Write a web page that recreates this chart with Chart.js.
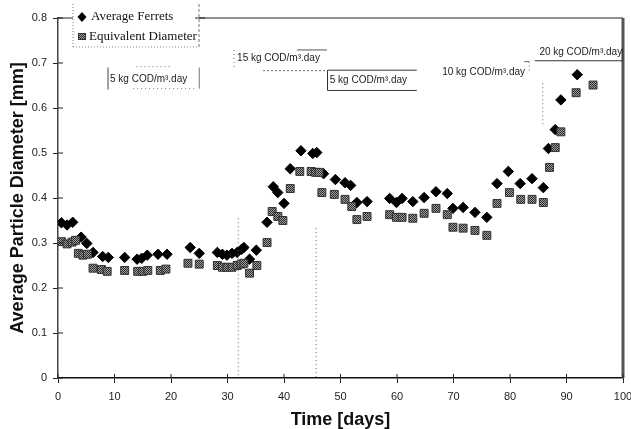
<!DOCTYPE html>
<html>
<head>
<meta charset="utf-8">
<script src="https://cdn.jsdelivr.net/npm/chart.js@4"></script>
<style>
  html, body { margin: 0; padding: 0; background: #fff; }
</style>
</head>
<body>
<canvas id="graficoParticulas" width="631" height="429"></canvas>
<script>
// dados
const diasFerrets = [0.6, 1.6, 2.6, 4.1, 5.1, 6.2, 7.9, 8.9, 11.8, 14.0, 14.8, 15.8, 17.7, 19.3, 23.4, 25.0,
  28.2, 29.1, 29.9, 30.8, 31.7, 32.5, 32.9, 33.9, 35.1, 37.0, 38.1, 38.9, 40.0, 41.1, 43.0, 45.1, 45.8,
  47.0, 49.1, 50.8, 51.8, 52.9, 54.7, 58.7, 59.9, 60.9, 62.8, 64.8, 66.9, 68.9, 69.9, 71.7, 73.8, 75.9,
  77.7, 79.7, 81.8, 83.9, 85.9, 86.8, 88.0, 89.0, 91.9];
const valoresFerrets = [0.345, 0.340, 0.346, 0.313, 0.299, 0.279, 0.270, 0.268, 0.268, 0.264, 0.266, 0.273,
  0.275, 0.275, 0.290, 0.277, 0.279, 0.275, 0.273, 0.277, 0.279, 0.286, 0.290, 0.264, 0.284, 0.346, 0.425,
  0.412, 0.388, 0.465, 0.505, 0.499, 0.501, 0.454, 0.441, 0.434, 0.428, 0.390, 0.392, 0.399, 0.390, 0.399,
  0.392, 0.401, 0.414, 0.410, 0.377, 0.379, 0.368, 0.357, 0.432, 0.459, 0.432, 0.443, 0.423, 0.510, 0.552,
  0.618, 0.674];

const diasEquivalente = [0.6, 1.6, 2.5, 3.1, 3.6, 4.4, 5.2, 6.2, 7.7, 8.7, 11.8, 14.1, 15.0, 15.9, 18.1, 19.1,
  23.0, 25.0, 28.2, 29.1, 29.9, 30.8, 31.7, 32.4, 32.9, 33.9, 35.2, 37.0, 37.9, 38.9, 39.8, 41.1, 42.8,
  44.8, 45.6, 46.2, 46.7, 48.9, 50.8, 52.0, 52.9, 54.7, 58.7, 59.9, 60.9, 62.8, 64.8, 66.9, 68.9, 69.9,
  71.7, 73.8, 75.9, 77.7, 79.9, 81.9, 83.9, 85.9, 87.0, 88.0, 89.0, 91.7, 94.7];
const valoresEquivalente = [0.303, 0.298, 0.302, 0.306, 0.277, 0.273, 0.275, 0.244, 0.241, 0.237, 0.239,
  0.237, 0.237, 0.239, 0.239, 0.242, 0.255, 0.253, 0.250, 0.246, 0.246, 0.246, 0.250, 0.253, 0.255, 0.233,
  0.250, 0.301, 0.370, 0.359, 0.350, 0.421, 0.459, 0.459, 0.457, 0.457, 0.412, 0.408, 0.397, 0.381, 0.352,
  0.359, 0.363, 0.357, 0.357, 0.355, 0.366, 0.377, 0.363, 0.335, 0.333, 0.328, 0.317, 0.388, 0.412, 0.397,
  0.397, 0.390, 0.468, 0.512, 0.547, 0.634, 0.651];

const ticksX = [0, 10, 20, 30, 40, 50, 60, 70, 80, 90, 100];
const ticksY = [0, 0.1, 0.2, 0.3, 0.4, 0.5, 0.6, 0.7, 0.8];

const nomesSeries = ["Average Ferrets", "Equivalent Diameter"];
const cargas = ["5 kg COD/m\u00b3.day", "15 kg COD/m\u00b3.day", "5 kg COD/m\u00b3.day", "10 kg COD/m\u00b3.day", "20 kg COD/m\u00b3.day"];
const diasMudanca = [31.9, 45.7, 85.8];

const fonteSans = "'Liberation Sans', Arial, sans-serif";
const fonteSerif = "'Liberation Serif', 'Times New Roman', serif";

function juntaPontos(dias, valores) {
  return dias.map((d, i) => ({ x: d, y: valores[i] }));
}

function criaPadrao() {
  const c = document.createElement("canvas");
  c.width = 2;
  c.height = 2;
  const g = c.getContext("2d");
  g.fillStyle = "#a0a0a0";
  g.fillRect(0, 0, 2, 2);
  g.fillStyle = "#2a2a2a";
  g.fillRect(0, 0, 1, 1);
  g.fillRect(1, 1, 1, 1);
  return g.createPattern(c, "repeat");
}
const padraoQuadrado = criaPadrao();

function linha(ctx, x1, y1, x2, y2, tracejado, cor, largura) {
  ctx.save();
  ctx.strokeStyle = cor || "#333";
  ctx.lineWidth = largura || 1;
  ctx.setLineDash(tracejado || []);
  ctx.beginPath();
  ctx.moveTo(x1, y1);
  ctx.lineTo(x2, y2);
  ctx.stroke();
  ctx.restore();
}

// desenha molduras, linhas pontilhadas, caixas de texto e legenda
const decoracao = {
  id: "decoracao",
  afterDraw(chart) {
    const ctx = chart.ctx;
    const sx = chart.scales.x;
    const sy = chart.scales.y;
    const a = chart.chartArea;
    const px = (d) => sx.getPixelForValue(d);
    const py = (v) => sy.getPixelForValue(v);
    const ponto = [1, 3];

    // moldura superior e direita
    linha(ctx, a.left, a.top, a.right, a.top, [], "#222", 1);
    linha(ctx, a.right, a.top, a.right, a.bottom, [], "#555", 3);

    // marcas internas dos eixos
    ticksY.forEach((v) => linha(ctx, a.left, py(v), a.left + 5, py(v), [], "#222", 1));
    ticksX.forEach((d) => linha(ctx, px(d), a.bottom, px(d), a.bottom - 4, [], "#222", 1));

    // mudancas de carga
    linha(ctx, px(diasMudanca[0]), py(0.355), px(diasMudanca[0]), a.bottom, ponto, "#666", 1);
    linha(ctx, px(diasMudanca[1]), py(0.333), px(diasMudanca[1]), a.bottom, ponto, "#666", 1);
    linha(ctx, px(diasMudanca[2]), py(0.655), px(diasMudanca[2]), py(0.56), ponto, "#666", 1);

    ctx.save();
    ctx.font = "10px " + fonteSans;
    ctx.fillStyle = "#222";
    ctx.textBaseline = "middle";

    // caixa 1
    linha(ctx, px(8.85), py(0.690), px(8.85), py(0.641), [], "#444", 1);
    linha(ctx, px(25.0), py(0.690), px(25.0), py(0.643), [], "#777", 1);
    linha(ctx, px(13.9), py(0.692), px(19.8), py(0.692), ponto, "#777", 1);
    linha(ctx, px(13.3), py(0.643), px(24.5), py(0.643), ponto, "#777", 1);
    ctx.fillText(cargas[0], px(9.2), py(0.665));

    // caixa 2
    linha(ctx, px(31.15), py(0.729), px(31.15), py(0.685), ponto, "#666", 1);
    linha(ctx, px(42.3), py(0.729), px(47.6), py(0.729), [], "#555", 1);
    linha(ctx, px(36.3), py(0.683), px(47.6), py(0.683), [2, 2], "#666", 1);
    ctx.fillText(cargas[1], px(31.7), py(0.710));

    // caixa 3
    linha(ctx, px(47.7), py(0.684), px(47.7), py(0.639), [], "#333", 1);
    linha(ctx, px(47.7), py(0.684), px(63.5), py(0.684), [], "#333", 1);
    linha(ctx, px(47.7), py(0.639), px(63.5), py(0.639), [], "#333", 1);
    ctx.fillText(cargas[2], px(48.1), py(0.661));

    // caixa 4
    linha(ctx, px(83.4), py(0.703), px(83.4), py(0.679), ponto, "#666", 1);
    linha(ctx, px(82.5), py(0.703), px(83.4), py(0.703), [], "#666", 1);
    ctx.fillText(cargas[3], px(68.0), py(0.679));

    // caixa 5
    linha(ctx, px(84.4), py(0.705), px(100), py(0.705), [], "#333", 1);
    linha(ctx, px(99.9), py(0.733), px(99.9), py(0.705), [], "#333", 1);
    ctx.fillText(cargas[4], px(85.2), py(0.723));
    ctx.restore();

    // legenda
    const lx = a.left + 15;
    const ly = 4;
    const lw = 126;
    const lh = 43;
    ctx.save();
    ctx.fillStyle = "#fff";
    ctx.fillRect(lx, ly, lw, lh);
    ctx.restore();
    linha(ctx, lx, ly, lx, ly + lh, [1, 2], "#777", 1);
    linha(ctx, lx + lw, ly, lx + lw, ly + lh, [3, 2], "#777", 1);
    linha(ctx, lx, ly + lh, lx + lw, ly + lh, [1, 2], "#888", 1);
    linha(ctx, lx + lw - 4, a.top, lx + lw + 6, a.top, [], "#222", 1);

    ctx.save();
    ctx.fillStyle = "#000";
    ctx.beginPath();
    ctx.moveTo(lx + 9, ly + 8);
    ctx.lineTo(lx + 13.5, ly + 13);
    ctx.lineTo(lx + 9, ly + 18);
    ctx.lineTo(lx + 4.5, ly + 13);
    ctx.closePath();
    ctx.fill();
    ctx.fillStyle = padraoQuadrado;
    ctx.fillRect(lx + 5, ly + 29, 8, 7);
    ctx.strokeStyle = "#333";
    ctx.strokeRect(lx + 5.5, ly + 29.5, 7, 6);
    ctx.fillStyle = "#111";
    ctx.font = "13px " + fonteSerif;
    ctx.textBaseline = "middle";
    ctx.fillText(nomesSeries[0], lx + 18, ly + 13);
    ctx.fillText(nomesSeries[1], lx + 16, ly + 33);
    ctx.restore();
  },
};

const graficoParticulas = new Chart(document.getElementById("graficoParticulas"), {
  type: "scatter",
  data: {
    datasets: [
      {
        label: nomesSeries[1],
        data: juntaPontos(diasEquivalente, valoresEquivalente),
        pointStyle: "rect",
        pointRadius: 5.6,
        backgroundColor: padraoQuadrado,
        borderColor: "#333",
        borderWidth: 1,
      },
      {
        label: nomesSeries[0],
        data: juntaPontos(diasFerrets, valoresFerrets),
        pointStyle: "rectRot",
        pointRadius: 5.2,
        backgroundColor: "#000",
        borderColor: "#000",
        borderWidth: 1,
      },
    ],
  },
  options: {
    responsive: false,
    animation: false,
    devicePixelRatio: 1,
    layout: { padding: { top: 18, right: 0, left: 0, bottom: 0 } },
    plugins: {
      legend: { display: false },
      tooltip: { enabled: false },
    },
    scales: {
      x: {
        type: "linear",
        min: 0,
        max: 100,
        afterBuildTicks: (scale) => { scale.ticks = ticksX.map((v) => ({ value: v })); },
        afterFit: (scale) => {
          scale.height = 51;
          scale.paddingRight = 8;
        },
        ticks: {
          padding: 7,
          color: "#222",
          font: { family: fonteSans, size: 11 },
        },
        grid: { drawOnChartArea: false, tickLength: 5, color: "#222" },
        border: { color: "#111", width: 1.5 },
        title: {
          display: true,
          text: "Time [days]",
          color: "#111",
          font: { family: fonteSans, size: 18, weight: "bold", lineHeight: 1 },
          padding: { top: 0, bottom: 0 },
        },
      },
      y: {
        type: "linear",
        min: 0,
        max: 0.8,
        afterBuildTicks: (scale) => { scale.ticks = ticksY.map((v) => ({ value: v })); },
        afterFit: (scale) => { scale.width = 58; },
        ticks: {
          padding: 6,
          color: "#222",
          font: { family: fonteSans, size: 11 },
          callback: (v) => String(Math.round(v * 10) / 10),
        },
        grid: { drawOnChartArea: false, tickLength: 5, color: "#222" },
        border: { color: "#444", width: 1.5 },
        title: {
          display: true,
          text: "Average Particle Diameter [mm]",
          color: "#111",
          font: { family: fonteSans, size: 18, weight: "bold", lineHeight: 1 },
          padding: { top: 9, bottom: 0 },
        },
      },
    },
  },
  plugins: [decoracao],
});
</script>
</body>
</html>
